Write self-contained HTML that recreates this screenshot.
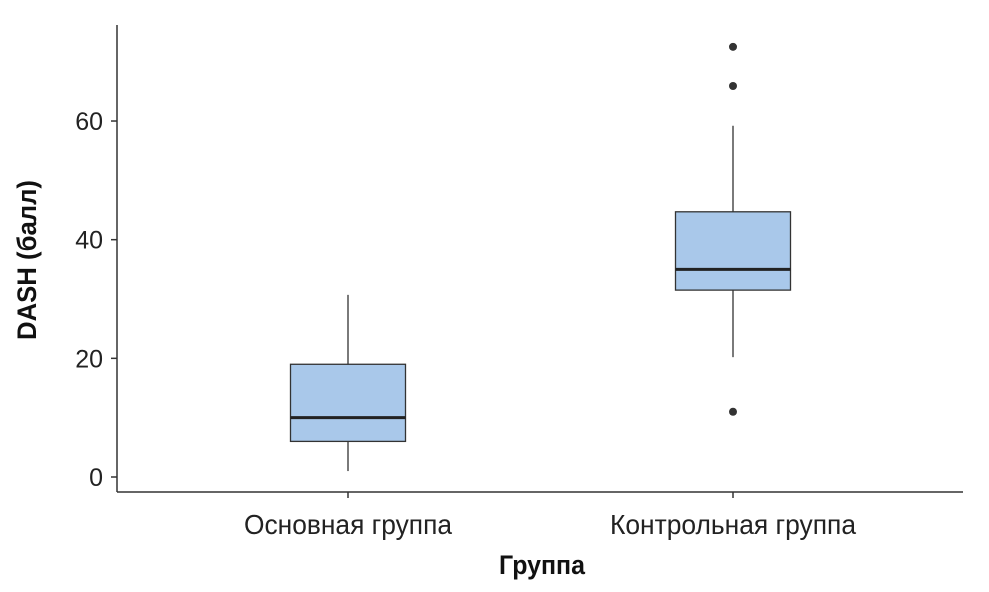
<!DOCTYPE html>
<html><head><meta charset="utf-8"><style>
html,body{margin:0;padding:0;background:#fff;}
svg{display:block;font-family:"Liberation Sans Narrow","Liberation Sans",sans-serif;}
</style></head><body>
<svg id="chart" width="989" height="592" viewBox="0 0 989 592"></svg>
<script>
const categories = ["Основная группа", "Контрольная группа"];
const whiskerLow = [1, 20.2];
const q1 = [6, 31.5];
const median = [10, 35];
const q3 = [19, 44.7];
const whiskerHigh = [30.7, 59.2];
const outliers = [[], [72.5, 65.9, 11]];
const yTicks = [0, 20, 40, 60];
const labelWidths = [208, 246];

const NS = "http://www.w3.org/2000/svg";
const svg = document.getElementById("chart");
const y = v => 477 - v * 5.933;
const xCenter = i => 348 + i * 385;
const boxHalf = 57.5;

function mk(tag, attrs, parent) {
  const e = document.createElementNS(NS, tag);
  for (const k in attrs) e.setAttribute(k, attrs[k]);
  (parent || svg).appendChild(e);
  return e;
}

let ax = mk("line", {x1:117, y1:25, x2:117, y2:492, stroke:"#333", "stroke-width":1.5});


ax = mk("line", {x1:117, y1:492, x2:963, y2:492, stroke:"#333", "stroke-width":1.5});



yTicks.forEach(t => {
  const tk = mk("line", {x1:111, x2:117, y1:y(t), y2:y(t), stroke:"#333", "stroke-width":1.5});
  
  
  const tx = mk("text", {x:103, y:y(t)+9, "text-anchor":"end", "font-size":25, fill:"#222"});
  tx.textContent = t;
  
  
});

categories.forEach((c, i) => {
  const cx = xCenter(i);
  const g = mk("g", {});
  
  
  mk("line", {x1:cx, x2:cx, y1:y(whiskerLow[i]), y2:y(q1[i]), stroke:"#333", "stroke-width":1.3}, g);
  mk("line", {x1:cx, x2:cx, y1:y(q3[i]), y2:y(whiskerHigh[i]), stroke:"#333", "stroke-width":1.3}, g);
  mk("rect", {x:cx-boxHalf, y:y(q3[i]), width:boxHalf*2, height:y(q1[i])-y(q3[i]), fill:"#a9c8ea", stroke:"#333", "stroke-width":1.3}, g);
  mk("line", {x1:cx-boxHalf, x2:cx+boxHalf, y1:y(median[i]), y2:y(median[i]), stroke:"#222", "stroke-width":3}, g);
  outliers[i].forEach(o => {
    const d = mk("circle", {cx:cx, cy:y(o), r:4, fill:"#333"}, g);
    
    
  });
  const tk = mk("line", {x1:cx, x2:cx, y1:492, y2:498, stroke:"#333", "stroke-width":1.5});
  
  
  const tx = mk("text", {x:cx, y:534, "text-anchor":"middle", "font-size":28, fill:"#222", textLength:labelWidths[i], lengthAdjust:"spacingAndGlyphs"});
  tx.textContent = c;
  
  
});

let t = mk("text", {x:542, y:574, "text-anchor":"middle", "font-size":27, "font-weight":"bold", fill:"#111", textLength:86, lengthAdjust:"spacingAndGlyphs"});
t.textContent = "Группа";


t = mk("text", {x:0, y:0, "text-anchor":"middle", "font-size":27, "font-weight":"bold", fill:"#111", transform:"translate(36,260) rotate(-90)", textLength:160, lengthAdjust:"spacingAndGlyphs"});
t.textContent = "DASH (балл)";


</script>
</body></html>
